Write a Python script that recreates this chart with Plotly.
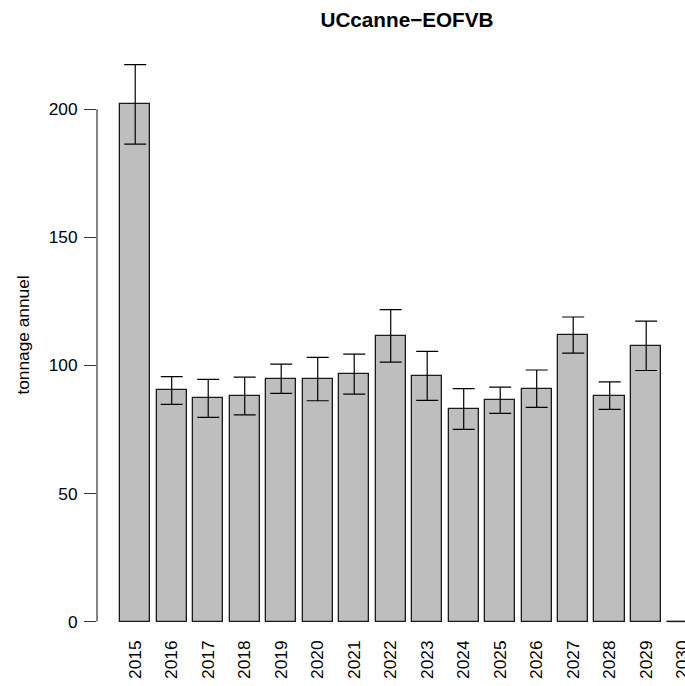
import math
import plotly.graph_objects as go

# ---- data ----
years = [str(y) for y in range(2015, 2031)]
tonnage = [202.1, 90.2, 87.2, 88.0, 94.7, 94.5, 96.6, 111.6, 95.8, 83.1, 86.4, 90.9, 112.0, 88.2, 107.7, 0.0]
upper = [217.4, 95.6, 94.5, 95.4, 100.5, 103.1, 104.4, 121.8, 105.5, 90.9, 91.5, 98.2, 118.9, 93.6, 117.3, float("nan")]
lower = [186.4, 84.8, 79.7, 80.7, 89.1, 86.2, 88.8, 101.3, 86.3, 75.0, 81.3, 83.6, 104.8, 82.8, 98.0, float("nan")]
y_ticks = [0, 50, 100, 150, 200]
title_text = "UCcanne\u2212EOFVB"
y_label = "tonnage annuel"

err_plus = [u - v for u, v in zip(upper, tonnage)]
err_minus = [v - l for v, l in zip(tonnage, lower)]

FONT = "Liberation Sans, Arial, Helvetica, sans-serif"
FS = 17.3
BAR_W = 1 / 1.2

fig = go.Figure()
fig.add_trace(go.Bar(
    x=years, y=tonnage, width=BAR_W,
    marker=dict(color="#BEBEBE", line=dict(color="#1a1a1a", width=1.3)),
    error_y=dict(type="data", symmetric=False, array=err_plus, arrayminus=err_minus,
                 color="#000000", thickness=1.2, width=11),
    showlegend=False,
))

# zero-height bars are drawn by R as a flat outline at 0
for i, v in enumerate(tonnage):
    if v == 0:
        fig.add_shape(type="line", xref="x", yref="y",
                      x0=i - BAR_W / 2, x1=i + BAR_W / 2, y0=0, y1=0,
                      line=dict(color="#1a1a1a", width=1.3))

# R-style y axis line spanning only the tick range
fig.add_shape(type="line", xref="paper", yref="y", x0=0, x1=0,
              y0=min(y_ticks), y1=max(y_ticks), line=dict(color="#333333", width=1.2))

fig.update_layout(
    width=685, height=686,
    margin=dict(l=97, r=0, t=40, b=56),
    paper_bgcolor="white", plot_bgcolor="white",
    font=dict(family=FONT, size=FS, color="black"),
    title=dict(text="<b>" + title_text + "</b>", x=407 / 685, xanchor="center",
               y=1 - 20 / 686, yanchor="middle", font=dict(size=20.7, family=FONT)),
    bargap=0,
)
fig.update_xaxes(type="category", range=[-1.047, 15.063], showline=False, showgrid=False,
                 zeroline=False, ticks="", tickangle=-90, ticklabelstandoff=6,
                 tickfont=dict(size=FS), automargin=False)
fig.update_yaxes(range=[-3.32, 227.05], tickvals=y_ticks, showline=False, showgrid=False,
                 zeroline=False, ticks="outside", ticklen=12, tickcolor="#333333", tickwidth=1.2,
                 ticklabelstandoff=3, tickfont=dict(size=FS), automargin=False,
                 title=dict(text=y_label, standoff=14, font=dict(size=FS)))

fig.write_html("out.html", config={"displayModeBar": False},
               post_script="document.body.style.margin='0';")
